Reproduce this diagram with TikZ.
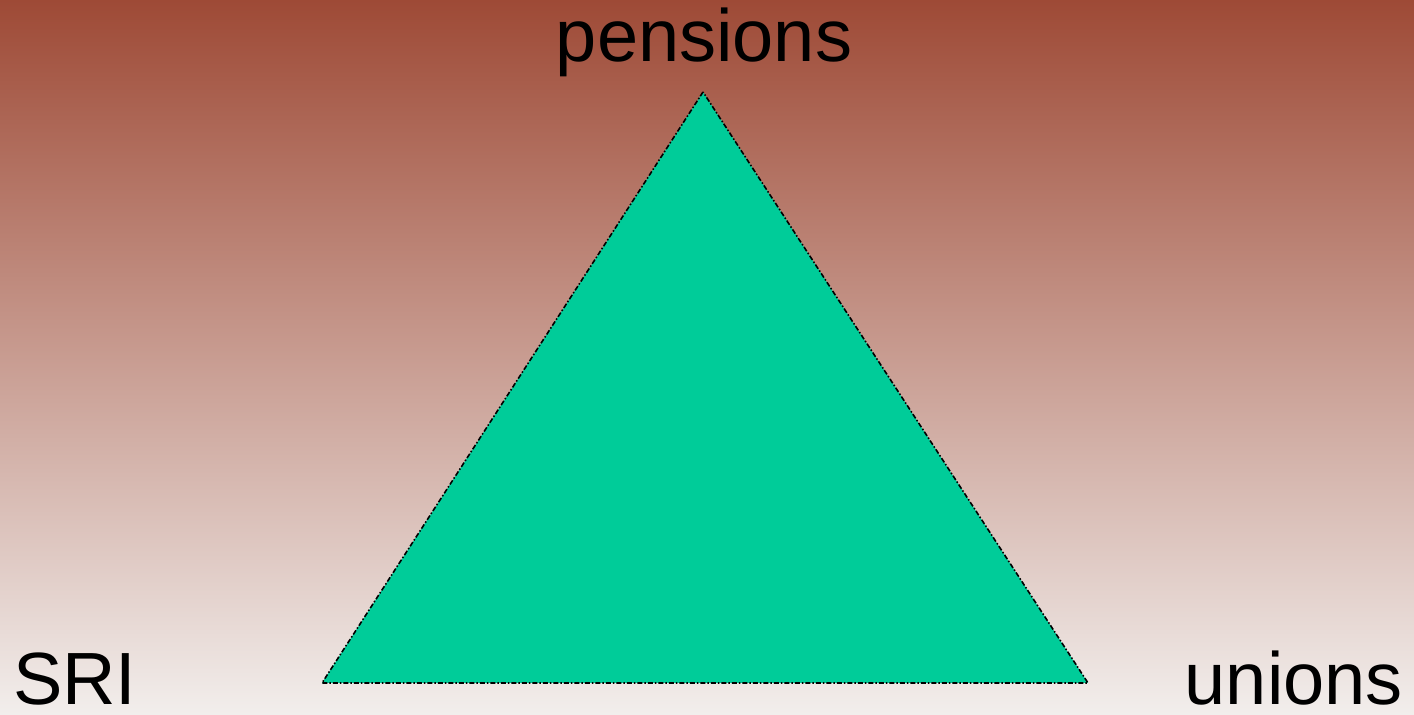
\documentclass[tikz,border=0pt]{standalone}
\usepackage{fontspec}
\setmainfont{Liberation Sans}
\usepackage{tikz}
\definecolor{rust}{HTML}{9E4A36}
\definecolor{mist}{HTML}{F2EEEC}
\definecolor{jade}{HTML}{00CC99}

\begin{document}
\begin{tikzpicture}[x=1bp, y=1bp, every node/.style={font=\fontsize{74bp}{88bp}\selectfont, inner sep=0pt},
  edge/.style={draw=black, line width=1.6bp, dash pattern=on 5bp off 2bp on 1.5bp off 2bp}]
  \shade[top color=rust, bottom color=mist] (0,0) rectangle (1414,714);
  \useasboundingbox (0,0) rectangle (1414,714);
  \coordinate (apex) at (703,622);
  \coordinate (left) at (322,31);
  \coordinate (right) at (1088,31);
  \fill[jade] (apex) -- (left) -- (right) -- cycle;
  \path[edge] (apex) -- (left) -- (right) -- cycle;
  \node[anchor=base] (pen) at (704,652) {pensions};
  \node[anchor=base west] (sri) at (13,9) {SRI};
  \node[anchor=base east] (uni) at (1403,9) {unions};
\end{tikzpicture}
\end{document}
